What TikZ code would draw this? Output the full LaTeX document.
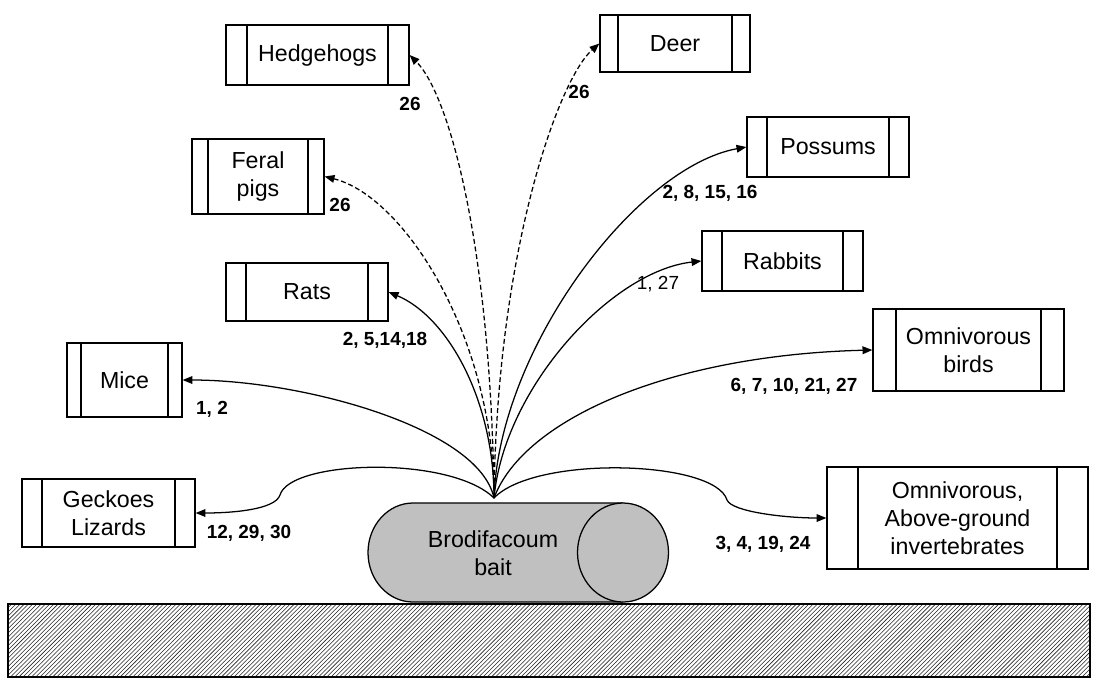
\documentclass[tikz,border=0pt]{standalone}
\usepackage{fontspec}
\setmainfont{Liberation Sans}
\usetikzlibrary{positioning,arrows.meta,patterns}
\definecolor{baitgray}{RGB}{192,192,192}
\newdimen\pxu \pxu=0.025cm

\begin{document}
\begin{tikzpicture}[x=0.025cm,y=0.025cm,
    animal/.style={draw,line width=0.9pt,rectangle,inner sep=0pt,align=center,
        font=\fontsize{16.5}{20}\selectfont,
        path picture={\draw[line width=0.9pt]
            ([xshift=#1]path picture bounding box.south west) -- ([xshift=#1]path picture bounding box.north west)
            ([xshift=-#1]path picture bounding box.south east) -- ([xshift=-#1]path picture bounding box.north east);}},
    animal/.default=20\pxu,
    refs/.style={font=\fontsize{13.5}{16}\selectfont\bfseries,inner sep=0pt},
    feed/.style={line width=0.9pt,-{Triangle[length=7pt,width=5.5pt]}},
    maybe/.style={feed,dash pattern=on 3.5pt off 2pt}]
    \useasboundingbox (0,0) rectangle (1097,-679);

    % Ground
    \draw[line width=0.9pt,pattern=north east lines,pattern color=black!85] (8,-604) rectangle (1090,-677);

    % Bait
    \filldraw[fill=baitgray,line width=0.9pt] (623,-503) -- (413,-503)
        arc[start angle=90,end angle=270,x radius=45,y radius=49.5] -- (623,-602);
    \filldraw[fill=baitgray,line width=0.9pt] (623,-552.5) ellipse [x radius=45.5,y radius=49.5];
    \node[align=center,font=\fontsize{16.5}{20}\selectfont] (bait) at (493,-553) {Brodifacoum\\bait};
    \coordinate (src) at (494,-498);
    \coordinate (gbend) at (280,-495);
    \coordinate (ibend) at (727,-500);

    % Animals
    \node[animal=21\pxu,minimum width=183\pxu,minimum height=60\pxu] (hedge) at (317.5,-55) {Hedgehogs};
    \node[animal=18\pxu,minimum width=150\pxu,minimum height=57\pxu] (deer) at (675,-43.5) {Deer};
    \node[animal=16\pxu,minimum width=132\pxu,minimum height=75\pxu] (pigs) at (258,-176.5) {Feral\\pigs};
    \node[animal,minimum width=162\pxu,minimum height=58\pxu] (rats) at (307,-292) {Rats};
    \node[animal=14\pxu,minimum width=115\pxu,minimum height=74\pxu] (mice) at (124.5,-380) {Mice};
    \node[animal,minimum width=173\pxu,minimum height=68\pxu] (gecko) at (108.5,-513) {Geckoes\\Lizards};
    \node[animal,minimum width=162\pxu,minimum height=60\pxu] (possum) at (828,-147) {Possums};
    \node[animal,minimum width=161\pxu,minimum height=60\pxu] (rabbit) at (782.5,-261) {Rabbits};
    \node[animal=23\pxu,minimum width=191\pxu,minimum height=82\pxu] (birds) at (968.5,-350) {Omnivorous\\birds};
    \node[animal=31\pxu,minimum width=261\pxu,minimum height=102\pxu] (invert) at (957.5,-518) {Omnivorous,\\Above-ground\\invertebrates};

    % Pathways
    \draw[feed] (src) .. controls +(-15,70) and +(120,0) .. (mice.east);
    \draw[feed] (src) .. controls +(0,98) and +(59,-25) .. (rats.east);
    \draw[maybe] (src) .. controls +(0,160) and +(80,-20) .. (pigs.east);
    \draw[maybe] (src) .. controls +(-3,250) and +(40,-40) .. (hedge.east);
    \draw[maybe] (src) .. controls +(3,250) and +(-40,-35) .. (deer.west);
    \draw[feed] (src) .. controls +(5,150) and +(-110,-20) .. (possum.west);
    \draw[feed] (src) .. controls +(10,110) and +(-90,-10) .. (rabbit.west);
    \draw[feed] (src) .. controls +(30,80) and +(-200,-5) .. (birds.west);
    \draw[feed] (src) .. controls +(-44,43) and +(10,35) .. (gbend) .. controls +(-5,-15) and +(35,0) .. (gecko.east);
    \draw[feed] (src) .. controls +(41,43) and +(-12,40) .. (ibend) .. controls +(5,-12) and +(-40,0) .. (invert.west);

    % References
    \node[refs] (hedgeref) at (410,-104) {26};
    \node[refs] (deerref) at (579,-92) {26};
    \node[refs] (pigsref) at (340,-205) {26};
    \node[refs] (ratsref) at (385,-340) {2, 5,14,18};
    \node[refs] (miceref) at (212,-409) {1, 2};
    \node[refs] (geckoref) at (249,-533) {12, 29, 30};
    \node[refs] (possumref) at (710,-193) {2, 8, 15, 16};
    \node[refs,font=\fontsize{13.5}{16}\selectfont] (rabbitref) at (658,-284) {1, 27};
    \node[refs] (birdsref) at (794,-386) {6, 7, 10, 21, 27};
    \node[refs] (invertref) at (763,-544) {3, 4, 19, 24};
\end{tikzpicture}
\end{document}
